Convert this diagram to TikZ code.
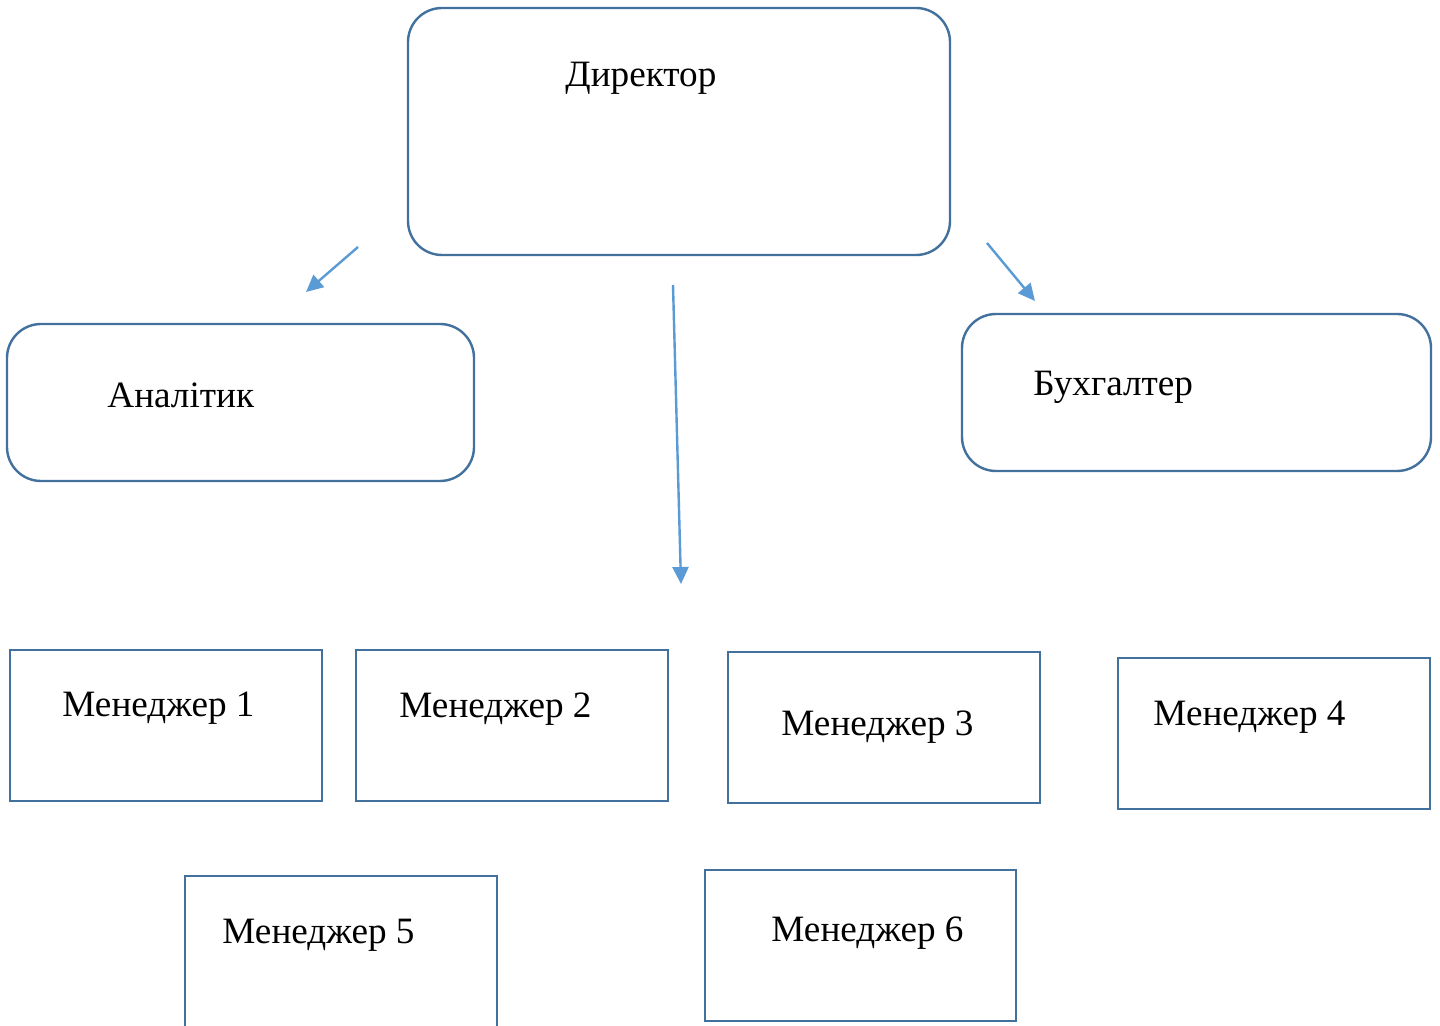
\documentclass[tikz,border=0pt]{standalone}
\usepackage{fontspec}
\setmainfont{Liberation Serif}
\usetikzlibrary{arrows.meta}
\definecolor{boxline}{HTML}{41719C}
\definecolor{arrowblue}{HTML}{5B9BD5}
\begin{document}
\begin{tikzpicture}[x=0.5pt,y=-0.5pt,
  rbox/.style={draw=boxline,line width=1.2pt,rounded corners=17pt,fill=white,inner sep=0pt},
  sbox/.style={draw=boxline,line width=1.2pt,fill=white,inner sep=0pt},
  lbl/.style={anchor=base west,inner sep=0pt,font=\fontsize{18.6pt}{21pt}\selectfont},
  conn/.style={draw=arrowblue,line width=1.2pt,-{Triangle[length=8.5pt,width=8pt]}}]
\useasboundingbox (0,0) rectangle (1440,1026);
\clip (0,0) rectangle (1440,1026);
\fill[white] (0,0) rectangle (1440,1026);
% boxes
\node[rbox,minimum width=271pt,minimum height=123.5pt] (dir) at (679,131.5) {};
\node[rbox,minimum width=233.5pt,minimum height=78.5pt] (anal) at (240.5,402.5) {};
\node[rbox,minimum width=234.5pt,minimum height=78.5pt] (buh) at (1196.5,392.5) {};
\node[sbox,minimum width=156pt,minimum height=75.5pt] (m1) at (166,725.5) {};
\node[sbox,minimum width=156pt,minimum height=75.5pt] (m2) at (512,725.5) {};
\node[sbox,minimum width=156pt,minimum height=75.5pt] (m3) at (884,727.5) {};
\node[sbox,minimum width=156pt,minimum height=75.5pt] (m4) at (1274,733.5) {};
\node[sbox,minimum width=156pt,minimum height=80pt] (m5) at (341,956) {};
\node[sbox,minimum width=155.5pt,minimum height=75.5pt] (m6) at (860.5,945.5) {};
% labels
\node[lbl] (tdir) at (565,87) {Директор};
\node[lbl] (tanal) at (107,408) {Аналітик};
\node[lbl] (tbuh) at (1033,396) {Бухгалтер};
\node[lbl] (tm1) at (62,716) {Менеджер 1};
\node[lbl] (tm2) at (399,717) {Менеджер 2};
\node[lbl] (tm3) at (781,735) {Менеджер 3};
\node[lbl] (tm4) at (1153,725) {Менеджер 4};
\node[lbl] (tm5) at (222,943) {Менеджер 5};
\node[lbl] (tm6) at (771,941) {Менеджер 6};
% connectors
\coordinate (a1s) at (358,247);
\coordinate (a1e) at (306,292);
\coordinate (a2s) at (987,243);
\coordinate (a2e) at (1035,301);
\coordinate (a3s) at (673,285);
\coordinate (a3e) at (681,584);
\draw[conn] (a1s) -- (a1e);
\draw[conn] (a2s) -- (a2e);
\draw[conn] (a3s) -- (a3e);
\end{tikzpicture}
\end{document}
